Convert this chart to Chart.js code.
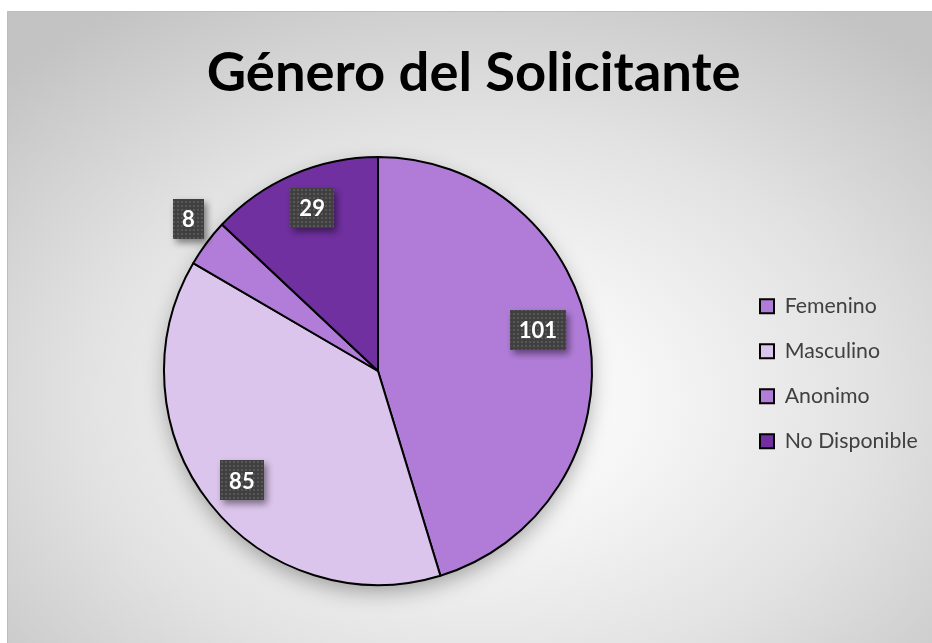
<!DOCTYPE html>
<html>
<head>
<meta charset="utf-8">
<script src="https://cdn.jsdelivr.net/npm/chart.js@4.4.1/dist/chart.umd.min.js"></script>
<style>
  html, body { margin: 0; padding: 0; width: 932px; height: 643px; overflow: hidden; background: #ffffff; }
  #frame {
    position: absolute; left: 7px; top: 11px; width: 940px; height: 650px;
    border: 1px solid #bdbdbd;
    background: radial-gradient(ellipse 70% 72% at 50% 60%, #ffffff 0%, #f6f6f6 25%, #e2e2e2 60%, #c3c3c3 100%);
  }
  #c { position: absolute; left: 0; top: 0; }
</style>
</head>
<body>
<div id="frame"></div>
<canvas id="c" width="932" height="643"></canvas>
<script>
// ---- data ----
const titleText = 'Género del Solicitante';
const categories = ['Femenino', 'Masculino', 'Anonimo', 'No Disponible'];
const values = [101, 85, 8, 29];
const sliceColors = ['#B07CD8', '#DCC5EC', '#B27DD9', '#7030A0'];

// ---- styling helpers ----
const FONT = 'Lato, "Open Sans", sans-serif';
const mctx = document.createElement('canvas').getContext('2d');
function fitSize(text, weight, target) {
  mctx.font = weight + ' 100px ' + FONT;
  return 100 * target / mctx.measureText(text).width;
}
const titleWeight = 'bold';
const titleSize = fitSize(titleText, titleWeight, 534);
const legendSize = fitSize('No Disponible', 'normal', 133);
const legendPad = 45 - legendSize;
const legendBox = 14;
const legendWidth = legendPad + legendBox + legendSize / 2 + 133 + 10;
const legendLeft = 760 - legendPad;
const padLeft = 756 - legendLeft;
const padRight = 932 - legendLeft - legendWidth;
const titlePadTop = 73 - 0.6 * titleSize;
const titlePadBottom = 8;
const titleBottom = titlePadTop + 1.2 * titleSize + titlePadBottom;
const padBottom = titleBottom - 99;

// label placement along each slice's mid angle (fraction of radius) + small nudges
const labelRadial = [0.77, 0.817, 1.135, 0.822];
const labelNudge = [[-3, -17], [1, 1], [5, -7], [4, -2]];

// dotted dark fill for data labels
const tile = document.createElement('canvas');
tile.width = 4; tile.height = 4;
const tctx = tile.getContext('2d');
tctx.fillStyle = '#404040'; tctx.fillRect(0, 0, 4, 4);
tctx.fillStyle = '#575757'; tctx.fillRect(1, 1, 2, 2);

const pieShadow = {
  id: 'pieShadow',
  beforeDatasetsDraw(chart) {
    const arc = chart.getDatasetMeta(0).data[0];
    if (!arc) return;
    const ctx = chart.ctx;
    ctx.save();
    ctx.shadowColor = 'rgba(0,0,0,0.35)';
    ctx.shadowBlur = 22;
    ctx.shadowOffsetY = 8;
    ctx.fillStyle = '#dddddd';
    ctx.beginPath();
    ctx.arc(arc.x, arc.y, arc.outerRadius - 2, 0, Math.PI * 2);
    ctx.fill();
    ctx.restore();
  }
};

const boxLabels = {
  id: 'boxLabels',
  afterDatasetsDraw(chart) {
    const ctx = chart.ctx;
    const meta = chart.getDatasetMeta(0);
    const pattern = ctx.createPattern(tile, 'repeat');
    meta.data.forEach((arc, i) => {
      const mid = (arc.startAngle + arc.endAngle) / 2;
      const d = arc.outerRadius * labelRadial[i];
      const cx = arc.x + Math.cos(mid) * d + labelNudge[i][0];
      const cy = arc.y + Math.sin(mid) * d + labelNudge[i][1];
      const txt = String(values[i]);
      ctx.save();
      ctx.font = 'bold 22px ' + FONT;
      const w = ctx.measureText(txt).width + 18;
      const h = 40;
      ctx.shadowColor = 'rgba(0,0,0,0.45)';
      ctx.shadowBlur = 7;
      ctx.shadowOffsetX = 3;
      ctx.shadowOffsetY = 4;
      ctx.fillStyle = pattern;
      ctx.fillRect(Math.round(cx - w / 2), Math.round(cy - h / 2), Math.round(w), h);
      ctx.shadowColor = 'transparent';
      ctx.fillStyle = '#ffffff';
      ctx.textAlign = 'center';
      ctx.textBaseline = 'middle';
      ctx.fillText(txt, cx, cy + 1);
      ctx.restore();
    });
  }
};

new Chart(document.getElementById('c'), {
  type: 'pie',
  data: {
    labels: categories,
    datasets: [{
      data: values,
      backgroundColor: sliceColors,
      borderColor: '#000000',
      borderWidth: 2
    }]
  },
  options: {
    responsive: false,
    animation: false,
    events: [],
    radius: 214,
    layout: { padding: { left: padLeft, right: padRight, top: 0, bottom: padBottom } },
    plugins: {
      title: {
        display: true,
        text: titleText,
        color: '#000000',
        font: { family: FONT, weight: titleWeight, size: titleSize, lineHeight: 1.2 },
        padding: { top: titlePadTop, bottom: titlePadBottom }
      },
      legend: {
        display: true,
        position: 'right',
        align: 'center',
        title: { display: true, text: '', font: { size: 10, lineHeight: 1.2 }, padding: { top: 107, bottom: 0 } },
        labels: {
          color: '#404040',
          font: { family: FONT, size: legendSize },
          boxWidth: legendBox,
          boxHeight: legendBox,
          padding: legendPad
        }
      },
      tooltip: { enabled: false }
    }
  },
  plugins: [pieShadow, boxLabels]
});
</script>
</body>
</html>
